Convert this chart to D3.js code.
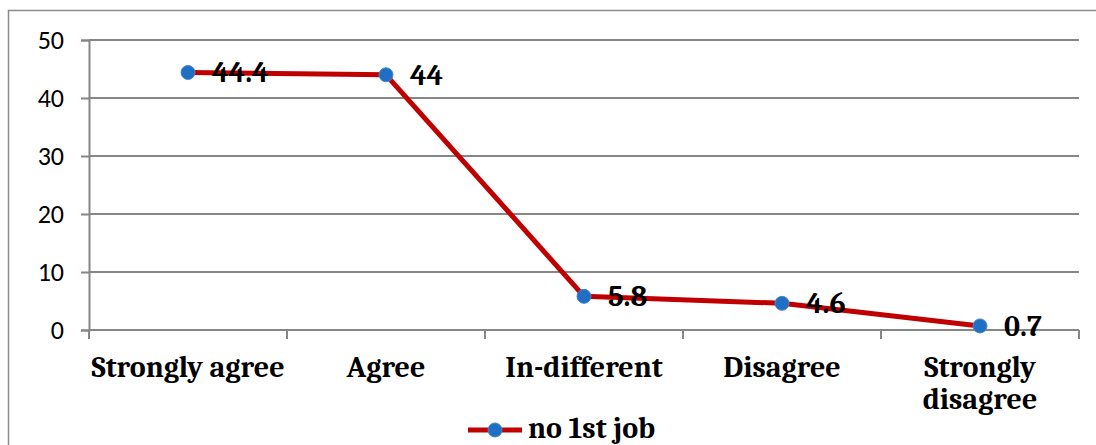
<!DOCTYPE html>
<html>
<head>
<meta charset="utf-8">
<script src="https://cdn.jsdelivr.net/npm/d3@7"></script>
<style>
  html, body { margin: 0; padding: 0; background: #fff; }
  svg { display: block; }
</style>
</head>
<body>
<svg id="chart" width="1096" height="445"></svg>
<script>
// Responses and their share (%)
const categories = ["Strongly agree", "Agree", "In-different", "Disagree", "Strongly disagree"];
const values = [44.4, 44, 5.8, 4.6, 0.7];
const yTicks = [0, 10, 20, 30, 40, 50];
const seriesName = "no 1st job";

const svg = d3.select("#chart");
const W = 1096, H = 445;
const plot = { left: 89, right: 1079, top: 40, bottom: 330 };
const serif = "Cambria, Caladea, 'DejaVu Serif', 'Liberation Serif', serif";
const sans = "Calibri, Carlito, 'Open Sans', 'Liberation Sans', sans-serif";
const gridColor = "#868686";
const lineColor = "#c00000";
const dotColor = "#1f6fc5";
const labelSize = 30;

// outer chart border
svg.append("path")
  .attr("d", `M8.5,${H} V10.5 H${W}`)
  .attr("fill", "none").attr("stroke", "#8c8c8c").attr("stroke-width", 1.5);

const x = d3.scaleBand().domain(categories).range([plot.left, plot.right]).padding(0);
const y = d3.scaleLinear().domain([0, 50]).range([plot.bottom, plot.top]);

// horizontal gridlines
svg.append("g")
  .selectAll("line").data(yTicks.filter(t => t > 0)).join("line")
  .attr("x1", plot.left).attr("x2", plot.right)
  .attr("y1", d => y(d)).attr("y2", d => y(d))
  .attr("stroke", gridColor).attr("stroke-width", 2);

// y axis
const yAxis = svg.append("g")
  .attr("transform", `translate(${plot.left},0)`)
  .call(d3.axisLeft(y).tickValues(yTicks).tickSize(8).tickPadding(17));
yAxis.select(".domain").attr("stroke", gridColor).attr("stroke-width", 2);
yAxis.selectAll(".tick line").attr("stroke", gridColor).attr("stroke-width", 2);
yAxis.selectAll(".tick text")
  .attr("font-family", sans).attr("font-size", 26).attr("fill", "#000");

// x axis with ticks between categories
const xAxisG = svg.append("g").attr("transform", `translate(0,${plot.bottom})`);
xAxisG.append("line")
  .attr("x1", plot.left).attr("x2", plot.right)
  .attr("stroke", gridColor).attr("stroke-width", 2);
const bounds = categories.map(c => x(c)).concat([plot.right]);
xAxisG.selectAll("line.tk").data(bounds).join("line")
  .attr("class", "tk")
  .attr("x1", d => d).attr("x2", d => d)
  .attr("y1", 0).attr("y2", 9)
  .attr("stroke", gridColor).attr("stroke-width", 2);

// category labels (wrapped when the band is too narrow)
const labelG = xAxisG.selectAll("text.cat").data(categories).join("text")
  .attr("class", "cat")
  .attr("x", d => x(d) + x.bandwidth() / 2)
  .attr("y", 47)
  .attr("text-anchor", "middle")
  .attr("font-family", serif).attr("font-weight", "bold").attr("font-size", labelSize)
  .attr("fill", "#000");
labelG.each(function(d) {
  const t = d3.select(this);
  const words = d === "Strongly disagree" ? ["Strongly", "disagree"] : [d];
  words.forEach((w, i) => {
    t.append("tspan").attr("x", x(d) + x.bandwidth() / 2).attr("dy", i ? 32 : 0).text(w);
  });
});

// series line
const cx = d => x(d) + x.bandwidth() / 2;
const line = d3.line().x((d, i) => cx(categories[i])).y(d => y(d));
svg.append("path")
  .datum(values)
  .attr("d", line)
  .attr("fill", "none").attr("stroke", lineColor).attr("stroke-width", 5)
  .attr("stroke-linejoin", "round");

// markers
svg.append("g").selectAll("circle").data(values).join("circle")
  .attr("cx", (d, i) => cx(categories[i]))
  .attr("cy", d => y(d))
  .attr("r", 7)
  .attr("fill", dotColor).attr("stroke", "#4a86c8").attr("stroke-width", 1);

// value labels
svg.append("g").selectAll("text").data(values).join("text")
  .attr("x", (d, i) => cx(categories[i]) + 24)
  .attr("y", d => y(d) + 10)
  .attr("font-family", serif).attr("font-weight", "bold").attr("font-size", labelSize)
  .attr("fill", "#000")
  .text(d => d);

// legend
const lg = svg.append("g").attr("transform", "translate(468,430)");
lg.append("line").attr("x1", 0).attr("x2", 54).attr("y1", 0).attr("y2", 0)
  .attr("stroke", lineColor).attr("stroke-width", 5);
lg.append("circle").attr("cx", 27).attr("cy", 0).attr("r", 7)
  .attr("fill", dotColor).attr("stroke", "#4a86c8").attr("stroke-width", 1);
lg.append("text").attr("x", 60).attr("y", 8)
  .attr("font-family", serif).attr("font-weight", "bold").attr("font-size", labelSize)
  .attr("fill", "#000").text(seriesName);
</script>
</body>
</html>
